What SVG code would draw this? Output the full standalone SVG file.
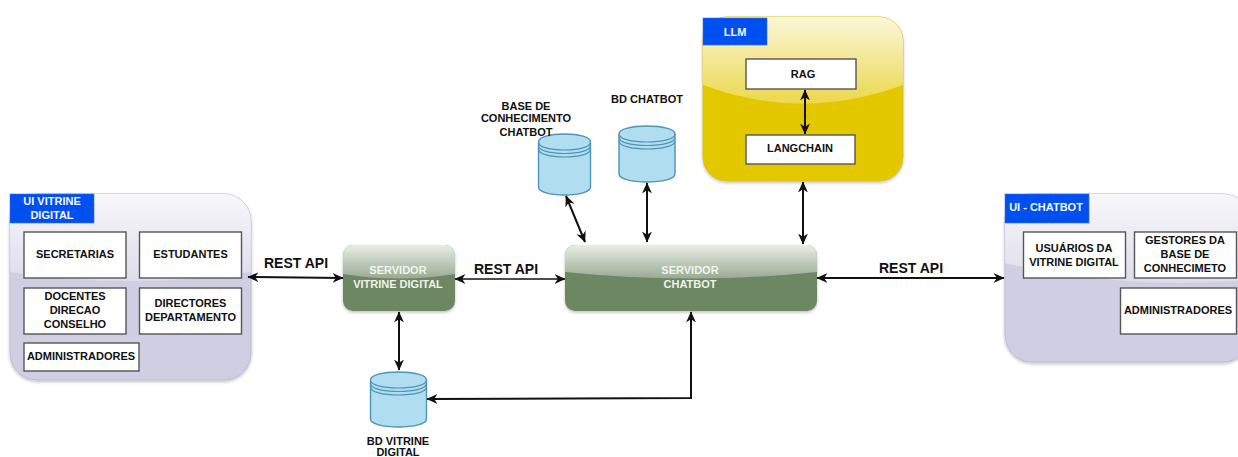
<svg xmlns="http://www.w3.org/2000/svg" width="1238" height="457" viewBox="0 0 1238 457">
<style>
text{font-family:"Liberation Sans",Arial,sans-serif;font-weight:bold;text-anchor:middle;fill:#111;font-size:11px}
.w{fill:#fff;stroke:#555;stroke-width:1.4}
.tab{fill:#0050ef;stroke:#3f6fe0;stroke-width:.6}
.tt{fill:#f4f6ff}
.st{fill:#f0f4ec;font-size:11px}
.api{font-size:14px}
.c{fill:none;stroke:#111;stroke-width:2;marker-start:url(#a);marker-end:url(#a)}
.cyl{fill:#b1ddf0;stroke:#4f93b5;stroke-width:1.4}
.cl{fill:none;stroke:#4f93b5;stroke-width:1.2}
</style>
<defs>
<marker id="a" viewBox="0 0 10 10" refX="9.500" refY="5" markerWidth="11" markerHeight="11" markerUnits="userSpaceOnUse" orient="auto-start-reverse"><path d="M0 0.500L10 5L0 9.500L3 5Z" fill="#111"/></marker>
<linearGradient id="g" x1="0" y1="0" x2="0" y2="1"><stop offset="0" stop-color="#fff" stop-opacity=".85"/><stop offset="1" stop-color="#fff" stop-opacity=".3"/></linearGradient>
<filter id="s" x="-5%" y="-5%" width="110%" height="110%"><feDropShadow dx="0" dy="1.5" stdDeviation="1.5" flood-color="#000" flood-opacity=".25"/></filter>
</defs>

<g id="ui-vitrine">
<rect x="10" y="194" width="241" height="186" rx="27" fill="#d0cee2" stroke="#bdbad4" filter="url(#s)"/>
<path d="M10 272V221A27 27 0 0 1 37 194H224A27 27 0 0 1 251 221V272Q130 290 10 272Z" fill="url(#g)"/>
<rect class="tab" x="10" y="194" width="84" height="29"/>
<text class="tt" x="52" y="205">UI VITRINE</text><text class="tt" x="52" y="219">DIGITAL</text>
<rect class="w" x="24" y="232" width="102" height="46"/><text x="75" y="258">SECRETARIAS</text>
<rect class="w" x="139.500" y="232" width="102" height="46"/><text x="190.500" y="258">ESTUDANTES</text>
<rect class="w" x="24" y="288" width="102" height="46"/><text x="75" y="300">DOCENTES</text><text x="75" y="314">DIRECAO</text><text x="75" y="328">CONSELHO</text>
<rect class="w" x="139.500" y="288" width="102" height="46"/><text x="190.500" y="307">DIRECTORES</text><text x="190.500" y="321">DEPARTAMENTO</text>
<rect class="w" x="24" y="343" width="115" height="28"/><text x="81" y="360">ADMINISTRADORES</text>
</g>

<g id="servidor-vitrine">
<rect x="343" y="245" width="112" height="66" rx="10" fill="#6d8764" filter="url(#s)"/>
<path d="M343 274V255A10 10 0 0 1 353 245H445A10 10 0 0 1 455 255V274Q399 283 343 274Z" fill="url(#g)"/>
<text class="st" x="398" y="274">SERVIDOR</text><text class="st" x="398" y="288">VITRINE DIGITAL</text>
</g>

<g id="servidor-chatbot">
<rect x="565" y="245" width="252" height="66" rx="10" fill="#6d8764" filter="url(#s)"/>
<path d="M565 272V255A10 10 0 0 1 575 245H807A10 10 0 0 1 817 255V272Q691 285 565 272Z" fill="url(#g)"/>
<text class="st" x="690" y="274">SERVIDOR</text><text class="st" x="690" y="288">CHATBOT</text>
</g>

<g id="llm">
<rect x="703" y="17" width="200" height="164" rx="24" fill="#e3c800" stroke="#d8c020" filter="url(#s)"/>
<path d="M703 85V41A24 24 0 0 1 727 17H879A24 24 0 0 1 903 41V85Q803 122 703 85Z" fill="url(#g)"/>
<rect class="tab" x="703" y="18" width="64" height="27"/><text class="tt" x="735" y="36">LLM</text>
<rect class="w" x="746" y="59" width="110" height="30"/><text x="803" y="78">RAG</text>
<rect class="w" x="746" y="135" width="109" height="29"/><text x="800" y="152">LANGCHAIN</text>
</g>

<g id="ui-chatbot">
<rect x="1005" y="194" width="245" height="168" rx="27" fill="#d0cee2" stroke="#bdbad4" filter="url(#s)"/>
<path d="M1005 263V194H1223A27 27 0 0 1 1250 221V280Q1120 290 1005 263Z" fill="url(#g)"/>
<rect class="tab" x="1005" y="194" width="84" height="29"/><text class="tt" x="1046" y="211">UI - CHATBOT</text>
<rect class="w" x="1023.500" y="232" width="102" height="46"/><text x="1074" y="252">USUÁRIOS DA</text><text x="1074" y="266">VITRINE DIGITAL</text>
<rect class="w" x="1134.500" y="232" width="102" height="46"/><text x="1185" y="244">GESTORES DA</text><text x="1185" y="258">BASE DE</text><text x="1185" y="272">CONHECIMETO</text>
<rect class="w" x="1120.500" y="288" width="116" height="46"/><text x="1178" y="314">ADMINISTRADORES</text>
</g>

<g id="bd-vitrine">
<path class="cyl" d="M370.500 380V419C370.500 424 383 427 398.500 427S426.500 424 426.500 419V380C426.500 375 414 372 398.500 372S370.500 375 370.500 380Z"/>
<path class="cl" d="M370.500 380C370.500 385 383 388 398.500 388S426.500 385 426.500 380M370.500 383.500C370.500 388.500 383 391.500 398.500 391.500S426.500 388.500 426.500 383.500M370.500 387C370.500 392 383 395 398.500 395S426.500 392 426.500 387"/>
<text x="398" y="445">BD VITRINE</text><text x="398" y="456">DIGITAL</text>
</g>

<g id="bd-chatbot">
<path class="cyl" d="M619 134V174C619 179 632 182 647 182S675 179 675 174V134C675 129 662 126 647 126S619 129 619 134Z"/>
<path class="cl" d="M619 134C619 139 632 142 647 142S675 139 675 134M619 137.500C619 142.500 632 145.500 647 145.500S675 142.500 675 137.500M619 141C619 146 632 149 647 149S675 146 675 141"/>
<text x="647" y="103">BD CHATBOT</text>
</g>

<g id="base-conhecimento">
<path class="cyl" d="M538.500 142V187C538.500 192 550 195 564.500 195S590.500 192 590.500 187V142C590.500 137 579 134 564.500 134S538.500 137 538.500 142Z"/>
<path class="cl" d="M538.500 142C538.500 147 550 150 564.500 150S590.500 147 590.500 142M538.500 145.500C538.500 150.500 550 153.500 564.500 153.500S590.500 150.500 590.500 145.500M538.500 149C538.500 154 550 157 564.500 157S590.500 154 590.500 149"/>
<text x="526" y="110">BASE DE</text><text x="526" y="122">CONHECIMENTO</text><text x="526" y="136">CHATBOT</text>
</g>

<g id="connectors">
<path class="c" d="M248 277L343 278"/>
<path class="c" d="M455 279H565" style="stroke-width:1.500"/>
<path class="c" d="M817 278H1004"/>
<path class="c" d="M399 312V370"/>
<path class="c" d="M427 399L691 398V312"/>
<path class="c" d="M566 196L585 242"/>
<path class="c" d="M647 183V242"/>
<path class="c" d="M803 182V244"/>
<path class="c" d="M805 90V134"/>
</g>

<g id="labels">
<text class="api" x="296" y="268">REST API</text>
<text class="api" x="506" y="274">REST API</text>
<text class="api" x="911" y="273">REST API</text>
</g>
</svg>
